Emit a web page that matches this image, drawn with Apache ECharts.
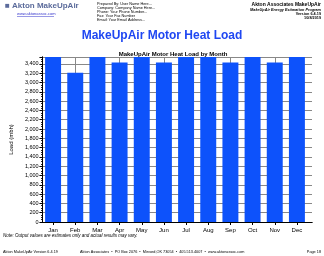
<!DOCTYPE html>
<html lang="en">
<head>
    <meta charset="UTF-8">
    <title>MakeUpAir Motor Heat Load</title>
    <script src="https://cdn.jsdelivr.net/npm/echarts@6/dist/echarts.min.js"></script>
    <style>
        html, body { margin: 0; padding: 0; background: #fff; }
        #chart { width: 324px; height: 256px; }
    </style>
</head>
<body>
<div id="chart"></div>

<script>
    // data
    var months = ['Jan', 'Feb', 'Mar', 'Apr', 'May', 'Jun', 'Jul', 'Aug', 'Sep', 'Oct', 'Nov', 'Dec'];
    var heatLoad = [3600, 3210, 3600, 3430, 3600, 3430, 3600, 3600, 3430, 3600, 3430, 3600];
    var yMax = 3550;
    var yLabelTop = 3400;

    var headerLines = ['Prepared By: User Name Here...', 'Company: Company Name Here...',
        'Phone: Your Phone Number...', 'Fax: Your Fax Number', 'Email: Your Email Address...'];
    var rightLines = ['Akton Associates MakeUpAir', 'MakeUpAir Energy Estimation Program',
        'Version 6.4.19', '10/8/2019'];

    var font = 'Liberation Sans, Arial, sans-serif';
    var myChart = echarts.init(document.getElementById('chart'));

    var graphics = [
        {type: 'text', style: {x: 5, y: 2, text: '\u25A0 Akton MakeUpAir', font: 'bold 8px ' + font, fill: '#5b6b9b'}},
        {type: 'text', style: {x: 17, y: 12, text: 'www.aktonassoc.com', font: '4px ' + font, fill: '#3333cc'}},
        {type: 'line', shape: {x1: 17, y1: 16.5, x2: 54, y2: 16.5}, style: {stroke: '#3333cc', lineWidth: 0.5}},
        {type: 'text', style: {x: 3, y: 233, text: 'Note: Output values are estimates only and actual results may vary.',
            font: 'italic 4.5px ' + font, fill: '#000'}},
        {type: 'text', style: {x: 3, y: 250, text: 'Akton MakeUpAir Version 6.4.19', font: '3.8px ' + font, fill: '#000'}},
        {type: 'text', style: {x: 80, y: 250,
            text: 'Akton Associates  \u2022  PO Box 2076  \u2022  Mirvord,OK 73054  \u2022  405.513.4007  \u2022  www.aktonassoc.com',
            font: '3.8px ' + font, fill: '#000'}},
        {type: 'text', style: {x: 321, y: 250, text: 'Page 18', align: 'right', font: '3.8px ' + font, fill: '#000'}}
    ];
    headerLines.forEach(function (t, i) {
        graphics.push({type: 'text', style: {x: 97, y: 2 + i * 4, text: t, font: '3.8px ' + font, fill: '#000'}});
    });
    rightLines.forEach(function (t, i) {
        var f = i === 0 ? 'bold 5px ' : (i === 1 ? 'bold italic 3.8px ' : 'bold 3.8px ');
        graphics.push({type: 'text', style: {x: 321, y: i === 0 ? 2 : 4 + i * 4, text: t, align: 'right', font: f + font, fill: '#000'}});
    });

    var option = {
        animation: false,
        textStyle: {fontFamily: font},
        title: [
            {
                text: 'MakeUpAir Motor Heat Load',
                left: 'center', top: 25,
                textStyle: {color: '#1f47f2', fontSize: 12, fontWeight: 'bold'}
            },
            {
                text: 'MakeUpAir Motor Heat Load by Month',
                left: 168, top: 46, textAlign: 'center',
                textStyle: {color: '#000', fontSize: 6, fontWeight: 'bold'}
            }
        ],
        graphic: graphics,
        grid: [
            {left: 38, right: 12, top: 57, bottom: 34},
            {left: 42, right: 16, top: 57, bottom: 34}
        ],
        xAxis: [
            {
                gridIndex: 0, type: 'value', min: 0, max: 1, position: 'bottom',
                axisLine: {show: true, lineStyle: {color: '#000', width: 1}},
                axisTick: {show: false}, axisLabel: {show: false}, splitLine: {show: false}
            },
            {
                gridIndex: 0, type: 'value', min: 0, max: 1, position: 'top',
                axisLine: {show: true, lineStyle: {color: '#000', width: 1}},
                axisTick: {show: false}, axisLabel: {show: false}, splitLine: {show: false}
            },
            {
                gridIndex: 1, type: 'category', data: months,
                axisLine: {show: false},
                axisTick: {show: true, alignWithLabel: true, length: 3, inside: false, lineStyle: {color: '#000'}},
                axisLabel: {fontSize: 6, color: '#000', margin: 5},
                splitLine: {show: true, alignWithLabel: true, lineStyle: {color: '#888', width: 1}}
            }
        ],
        yAxis: [
            {
                gridIndex: 0, type: 'value', min: 0, max: yMax, interval: 200,
                name: 'Load (mbh)', nameLocation: 'middle', nameGap: 24,
                nameTextStyle: {fontSize: 6, color: '#000'},
                axisLine: {show: true, lineStyle: {color: '#000'}},
                axisTick: {show: true, length: 3, lineStyle: {color: '#000'}},
                minorTick: {show: true, splitNumber: 4, length: 1.5, lineStyle: {color: '#000'}},
                axisLabel: {
                    fontSize: 5.5, color: '#000', margin: 4,
                    formatter: function (v) { return v > yLabelTop ? '' : v.toLocaleString('en-US'); }
                },
                splitLine: {show: true, lineStyle: {color: '#888', width: 1}}
            },
            {
                gridIndex: 0, type: 'value', min: 0, max: yMax, interval: 200, position: 'right',
                axisLine: {show: true, lineStyle: {color: '#000'}},
                axisTick: {show: true, inside: true, length: 3, lineStyle: {color: '#000'}},
                axisLabel: {show: false}, splitLine: {show: false}
            },
            {
                gridIndex: 1, type: 'value', min: 0, max: yMax, show: false
            }
        ],
        series: [
            {
                name: 'Motor Heat Load',
                type: 'bar',
                xAxisIndex: 2, yAxisIndex: 2,
                barWidth: '72%',
                clip: true,
                itemStyle: {color: '#0d52fb'},
                data: heatLoad
            }
        ]
    };
    myChart.setOption(option);
</script>
</body>
</html>
